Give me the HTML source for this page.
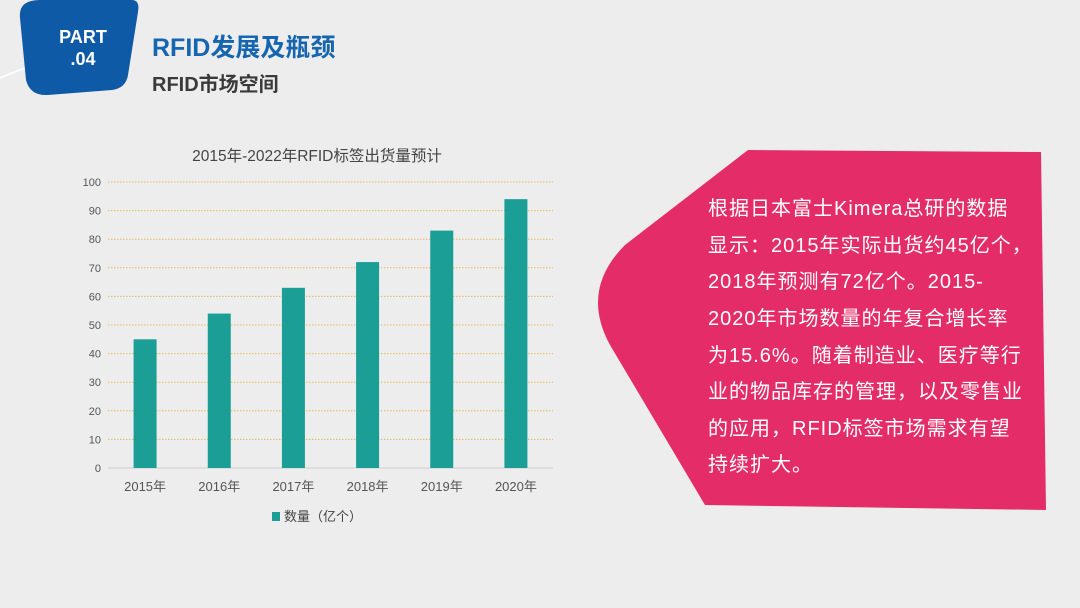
<!DOCTYPE html>
<html><head><meta charset="utf-8">
<style>
body{margin:0;width:1080px;height:608px;overflow:hidden;background:#ededed;font-family:"Liberation Sans","Noto Sans CJK SC",sans-serif;position:relative}
.abs{position:absolute}
#txt div{position:absolute;left:708px;white-space:nowrap;font-size:20px;color:#fff;letter-spacing:1px}
</style></head><body>
<svg class="abs" style="left:0;top:0" width="1080" height="608">
<path d="M0,78 Q40,60 70,60" stroke="#fff" stroke-width="2" fill="none" opacity="0.8"/>
<path d="M40,0 L132,0 Q140,0 138,12 L128,75 Q126,88 112,90 L48,95 Q30,96 26,80 L20,18 Q18,0 40,0Z" fill="#0f5aa6"/>
<path d="M748,150 L1041,152 L1046,510 L705,505 L610,345 Q580,290 625,245 Z" fill="#e42d68"/>
</svg>
<div class="abs" style="left:52px;top:26px;width:62px;text-align:center;color:#fff;font-weight:bold;font-size:18px;line-height:22px">PART<br>.04</div>
<div class="abs" style="left:152px;top:28px;color:#1565b0;font-weight:bold;font-size:25px">RFID发展及瓶颈</div>
<div class="abs" style="left:152px;top:68px;color:#3a3a3a;font-weight:bold;font-size:20px">RFID市场空间</div>
<div id="txt">
<div style="top:192px">根据日本富士Kimera总研的数据</div>
<div style="top:229px">显示：2015年实际出货约45亿个，</div>
<div style="top:265px">2018年预测有72亿个。2015-</div>
<div style="top:302px">2020年市场数量的年复合增长率</div>
<div style="top:339px">为15.6%。随着制造业、医疗等行</div>
<div style="top:375px">业的物品库存的管理，以及零售业</div>
<div style="top:412px">的应用，RFID标签市场需求有望</div>
<div style="top:448px">持续扩大。</div>
</div>
<svg id="chart" class="abs" style="left:0;top:0" width="600" height="608"></svg>
<script>
const categories=["2015年","2016年","2017年","2018年","2019年","2020年"];
const values=[45,54,63,72,83,94];
const yTicks=[0,10,20,30,40,50,60,70,80,90,100];
const seriesName="数量（亿个）";
const chartTitle="2015年-2022年RFID标签出货量预计";
const NS="http://www.w3.org/2000/svg";
const svg=document.getElementById('chart');
const x0=108,x1=553,y0=468,yTop=182,yMax=100;
const yS=v=>y0-(v/yMax)*(y0-yTop);
const band=(x1-x0)/categories.length;
const xC=i=>x0+band*(i+0.5);
function mk(t,a,txt){const e=document.createElementNS(NS,t);for(const k in a)e.setAttribute(k,a[k]);if(txt!=null)e.textContent=txt;svg.appendChild(e);return e;}
let t=mk('text',{x:317,y:161,'text-anchor':'middle','font-size':15.5,fill:'#444'},chartTitle);


yTicks.forEach(v=>{
 const l=mk('line',{x1:x0,x2:x1,y1:yS(v),y2:yS(v),stroke:v===0?'#d0d0d0':'#e8b95a','stroke-width':1,'stroke-dasharray':v===0?'':'1.5,1.5'});
 
 
 const tx=mk('text',{x:101,y:yS(v)+4,'text-anchor':'end','font-size':11,fill:'#555'},v);
 
 
});
values.forEach((v,i)=>{
 const w=23;
 const r=mk('rect',{x:xC(i)-w/2,y:yS(v),width:w,height:y0-yS(v),fill:'#1a9e96'});
 
 
 const tx=mk('text',{x:xC(i),y:491,'text-anchor':'middle','font-size':13,fill:'#555'},categories[i]);
 
 
});
const lg=mk('rect',{x:272,y:512,width:8,height:9,fill:'#1a9e96'});


const lt=mk('text',{x:284,y:521,'font-size':13,fill:'#444'},seriesName);


</script>
</body></html>
